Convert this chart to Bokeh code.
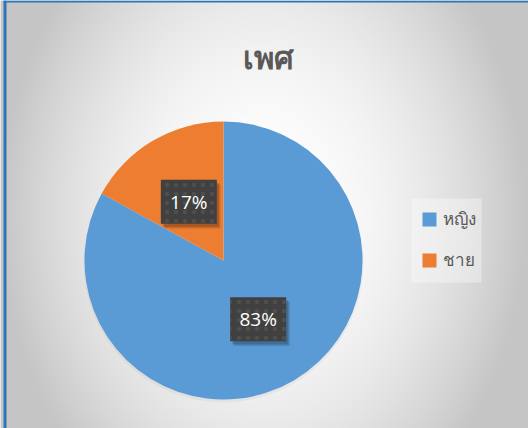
import numpy as np
from bokeh.plotting import figure
from bokeh.models import Range1d
from bokeh.core.properties import value
from bokeh.embed import file_html
from bokeh.resources import INLINE

# ---- data ----
title = "เพศ"
categories = ["หญิง", "ชาย"]
percents = [83, 17]
colors = ["#5b9bd5", "#ed7d31"]

W, H = 528, 428
p = figure(width=W, height=H, output_backend="svg", toolbar_location=None,
           x_range=Range1d(0, W), y_range=Range1d(0, H), min_border=0)
p.axis.visible = False
p.grid.visible = False
p.outline_line_color = None
p.background_fill_color = "#e8e8e8"
p.border_fill_color = "#ffffff"

def Y(py):
    return H - py

# radial background gradient
yy, xx = np.mgrid[0:H, 0:W]
cx, cy = 262, 214
d = ((xx - cx) / 264.0) ** 2 + 0.38 * ((yy - cy) / 214.0) ** 2
g = np.clip(255 - 58 * np.minimum(d, 1.0), 0, 255).astype(np.uint32)
img = (255 << 24) | (g << 16) | (g << 8) | g
p.image_rgba(image=[img.astype(np.uint32)], x=0, y=0, dw=W, dh=H)

# border lines (top and left)
p.quad(left=[3], right=[W], top=[Y(0)], bottom=[Y(2)], fill_color="#2e75b6", line_color=None)
p.quad(left=[3], right=[6], top=[Y(0)], bottom=[Y(H)], fill_color="#2e75b6", line_color=None)

# title
p.text(x=[268], y=[Y(56)], text=[title], text_align="center", text_baseline="middle",
       text_font=value("Noto Sans"), text_font_style="bold", text_font_size="31px",
       text_color="#595959")

# pie
pcx, pcy, R = 223, Y(260), 139
total = float(sum(percents))
fr = np.array(percents) / total
cum = np.concatenate([[0], np.cumsum(fr)])
starts = np.pi / 2 - cum[1:] * 2 * np.pi
ends = np.pi / 2 - cum[:-1] * 2 * np.pi
# faint shadow
p.circle(x=[pcx], y=[pcy - 2], radius=R + 1, fill_color="#000000", fill_alpha=0.04, line_color=None)
p.wedge(x=pcx, y=pcy, radius=R, start_angle=list(starts), end_angle=list(ends),
        fill_color=colors, line_color=None, direction="anticlock")

# labels
mids = (starts + ends) / 2
rl = 0.49 * R
lx = pcx + rl * np.cos(mids)
ly = pcy + rl * np.sin(mids)
bw, bh = 56, 44
for k, a in [(5, 0.08), (4, 0.1), (3, 0.14)]:
    p.rect(x=list(lx + k - 1), y=list(ly - k), width=bw, height=bh, fill_color="#000000",
           fill_alpha=a, line_color=None)
p.rect(x=list(lx), y=list(ly), width=bw, height=bh, fill_color="#404040", line_color=None,
       hatch_pattern="dot", hatch_color="#4e4e4e", hatch_scale=9, hatch_weight=1)
p.text(x=list(lx), y=list(ly), text=[f"{v}%" for v in percents], text_align="center",
       text_baseline="middle", text_font=value("Open Sans"), text_font_size="19px",
       text_color="#ffffff")

# legend
p.quad(left=[411], right=[481], top=[Y(198)], bottom=[Y(282)], fill_color="#ffffff",
       fill_alpha=0.35, line_color=None)
ly0 = [Y(219), Y(260)]
p.rect(x=[429, 429], y=ly0, width=14, height=14, fill_color=colors, line_color=None)
p.text(x=[442, 442], y=[v + 1 for v in ly0], text=categories, text_baseline="middle",
       text_font=value("Noto Sans"), text_font_size="17px", text_color="#595959")

open("out.html", "w").write(file_html(p, INLINE))
